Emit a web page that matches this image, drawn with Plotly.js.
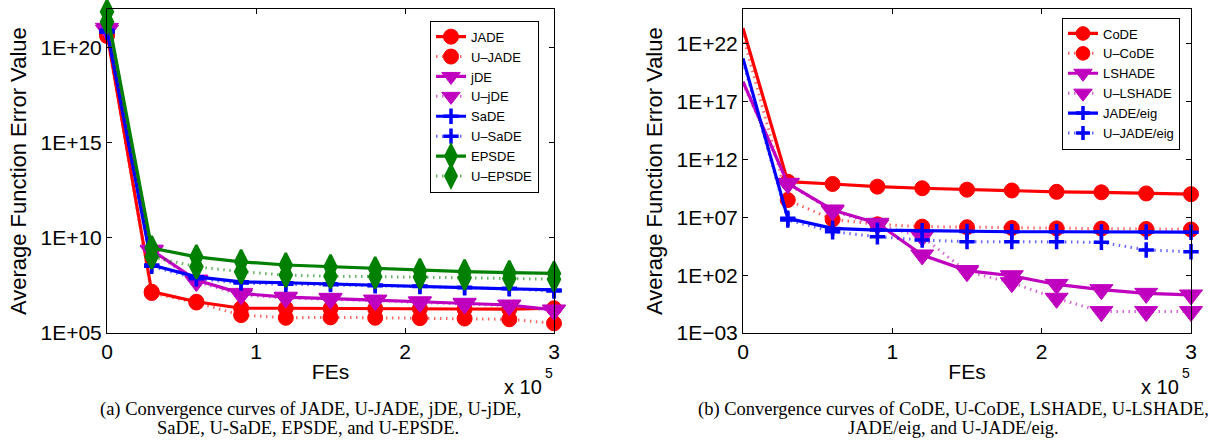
<!DOCTYPE html>
<html>
<head>
<meta charset="utf-8">
<script src="https://cdn.plot.ly/plotly-3.0.1.min.js"></script>
<style>html,body{margin:0;padding:0;background:#fff;}#chart{width:1210px;height:441px;}</style>
</head>
<body>
<div id="chart"></div>
<script>
// Function evaluations (x axis)
const fes = [0, 30000, 60000, 90000, 120000, 150000, 180000, 210000, 240000, 270000, 300000];

// Panel (a): log10 of average function error value
const jadeLog    = [20.73, 7.17, 6.64, 6.30, 6.30, 6.28, 6.28, 6.28, 6.26, 6.25, 6.30];
const uJadeLog   = [20.60, 7.10, 6.60, 5.94, 5.80, 5.82, 5.80, 5.78, 5.76, 5.72, 5.51];
const jdeLog     = [21.00, 9.35, 7.78, 7.08, 6.88, 6.82, 6.73, 6.64, 6.56, 6.47, 6.21];
const uJdeLog    = [20.90, 9.30, 7.70, 7.00, 6.84, 6.78, 6.70, 6.60, 6.52, 6.44, 6.18];
const sadeLog    = [20.90, 8.57, 7.95, 7.69, 7.64, 7.58, 7.52, 7.47, 7.40, 7.35, 7.26];
const uSadeLog   = [20.80, 8.50, 7.85, 7.62, 7.56, 7.54, 7.48, 7.44, 7.37, 7.32, 7.20];
const epsdeLog   = [21.87, 9.46, 9.00, 8.74, 8.57, 8.48, 8.36, 8.27, 8.22, 8.17, 8.13];
const uEpsdeLog  = [21.34, 9.00, 8.48, 8.22, 8.04, 7.98, 7.96, 7.94, 7.90, 7.86, 7.82];

// Panel (b): log10 of average function error value
const codeLog    = [23.36, 10.09, 9.89, 9.66, 9.52, 9.40, 9.33, 9.21, 9.17, 9.07, 9.01];
const uCodeLog   = [22.70, 8.50, 6.83, 6.40, 6.20, 6.15, 6.08, 6.05, 6.03, 6.00, 5.95];
const lshadeLog  = [18.74, 9.95, 7.64, 6.49, 3.75, 2.40, 1.95, 1.20, 0.75, 0.43, 0.29];
const uLshadeLog = [18.60, 9.90, 7.55, 6.35, 5.33, 2.30, 1.35, 0.00, -1.15, -1.15, -1.15];
const jadeEigLog = [20.76, 6.92, 6.05, 5.90, 5.85, 5.78, 5.76, 5.76, 5.75, 5.74, 5.72];
const uJadeEigLog= [20.50, 6.77, 5.76, 5.33, 5.04, 4.90, 4.90, 4.90, 4.85, 4.18, 4.03];

// Tick labels
const xTickVals = [0, 100000, 200000, 300000];
const xTickText = ['0', '1', '2', '3'];
const yTickValsA = [1e5, 1e10, 1e15, 1e20];
const yTickTextA = ['1E+05', '1E+10', '1E+15', '1E+20'];
const yTickValsB = [1e-3, 1e2, 1e7, 1e12, 1e17, 1e22];
const yTickTextB = ['1E\u221203', '1E+02', '1E+07', '1E+12', '1E+17', '1E+22'];

const RED = '#ff0000', MAG = '#bf00bf', BLUE = '#0000ff', GREEN = '#008000';
const DOTC = {};
DOTC[RED] = 'rgba(255,0,0,0.6)';
DOTC[MAG] = 'rgba(191,0,191,0.6)';
DOTC[BLUE] = 'rgba(0,0,255,0.6)';
DOTC[GREEN] = 'rgba(0,128,0,0.6)';

function symStyle(sym) {
  if (sym === 'circle') return {symbol: 'circle', size: 15, lw: 1};
  if (sym === 'tri') return {symbol: 'triangle-down', size: 20, lw: 1};
  if (sym === 'plus') return {symbol: 'cross-thin', size: 11, lw: 3.5};
  return {symbol: 'diamond-tall', size: 17, lw: 2.5};
}

function tr(name, logs, color, sym, dotted, panel) {
  const s = symStyle(sym);
  const size = panel === 2 ? fes.map((_, i) => i === 0 ? 0 : s.size) : s.size;
  return {
    type: 'scatter', mode: 'lines+markers', name: name,
    x: fes, y: logs.map(v => Math.pow(10, v)),
    xaxis: panel === 1 ? 'x' : 'x2', yaxis: panel === 1 ? 'y' : 'y2',
    legend: panel === 1 ? 'legend' : 'legend2',
    cliponaxis: false,
    line: dotted ? {color: DOTC[color], width: 3, dash: '1.5px,4.5px'} : {color: color, width: 3.2},
    marker: {symbol: s.symbol, size: size, color: color, opacity: 1, line: {color: color, width: s.lw}},
    hoverinfo: 'skip'
  };
}

const data = [
  tr('JADE', jadeLog, RED, 'circle', false, 1),
  tr('U\u2013JADE', uJadeLog, RED, 'circle', true, 1),
  tr('jDE', jdeLog, MAG, 'tri', false, 1),
  tr('U\u2013jDE', uJdeLog, MAG, 'tri', true, 1),
  tr('SaDE', sadeLog, BLUE, 'plus', false, 1),
  tr('U\u2013SaDE', uSadeLog, BLUE, 'plus', true, 1),
  tr('EPSDE', epsdeLog, GREEN, 'diamond', false, 1),
  tr('U\u2013EPSDE', uEpsdeLog, GREEN, 'diamond', true, 1),
  tr('CoDE', codeLog, RED, 'circle', false, 2),
  tr('U\u2013CoDE', uCodeLog, RED, 'circle', true, 2),
  tr('LSHADE', lshadeLog, MAG, 'tri', false, 2),
  tr('U\u2013LSHADE', uLshadeLog, MAG, 'tri', true, 2),
  tr('JADE/eig', jadeEigLog, BLUE, 'plus', false, 2),
  tr('U\u2013JADE/eig', uJadeEigLog, BLUE, 'plus', true, 2)
];

const W = 1210, H = 441;
const px = v => v / W, py = v => 1 - v / H;
const SANS = 'Liberation Sans, Arial, sans-serif';

const axisStyle = {
  showline: true, linecolor: 'black', linewidth: 1, mirror: 'ticks',
  ticks: 'inside', ticklen: 5, tickwidth: 1, tickcolor: 'black',
  showgrid: false, zeroline: false, fixedrange: true,
  tickfont: {family: SANS, size: 21, color: '#000'}
};

const yDom = [py(333), py(9.3)];
const xTitle = {text: 'FEs', font: {family: SANS, size: 21, color: '#000'}, standoff: 2};
const yTitle = {text: 'Average Function Error Value', font: {family: SANS, size: 22, color: '#000'}, standoff: 7};

const legendStyle = {
  bgcolor: '#ffffff', bordercolor: '#000', borderwidth: 1,
  font: {family: SANS, size: 13, color: '#000'},
  xanchor: 'right', yanchor: 'top', itemsizing: 'trace', tracegroupgap: 0
};

const capFont = {family: 'Liberation Serif, Times New Roman, serif', size: 18.5, color: '#000'};

function ann(text, x, y, opts) {
  return Object.assign({text: text, x: px(x), y: py(y), xref: 'paper', yref: 'paper',
    showarrow: false, xanchor: 'center', yanchor: 'middle',
    font: {family: SANS, size: 20, color: '#000'}}, opts || {});
}

const layout = {
  width: W, height: H,
  margin: {l: 0, r: 0, t: 0, b: 0},
  paper_bgcolor: '#fff', plot_bgcolor: '#fff',
  font: {family: SANS, size: 21, color: '#000'},
  showlegend: true,
  xaxis: Object.assign({}, axisStyle, {domain: [px(107), px(554)], range: [0, 300000],
    tickmode: 'array', tickvals: xTickVals, ticktext: xTickText, anchor: 'y', title: xTitle}),
  yaxis: Object.assign({}, axisStyle, {domain: yDom, type: 'log', range: [5, 22],
    tickmode: 'array', tickvals: yTickValsA, ticktext: yTickTextA, anchor: 'x', title: yTitle}),
  xaxis2: Object.assign({}, axisStyle, {domain: [px(743), px(1191)], range: [0, 300000],
    tickmode: 'array', tickvals: xTickVals, ticktext: xTickText, anchor: 'y2', title: xTitle}),
  yaxis2: Object.assign({}, axisStyle, {domain: yDom, type: 'log', range: [-3, 25],
    tickmode: 'array', tickvals: yTickValsB, ticktext: yTickTextB, anchor: 'x2', title: yTitle}),
  legend: Object.assign({}, legendStyle, {x: px(539), y: py(20.7)}),
  legend2: Object.assign({}, legendStyle, {x: px(1180), y: py(17.5)}),
  annotations: [
    ann('x 10', 544, 387, {xanchor: 'right'}),
    ann('5', 549, 373, {font: {family: SANS, size: 14, color: '#000'}}),
    ann('x 10', 1181, 387, {xanchor: 'right'}),
    ann('5', 1186, 373, {font: {family: SANS, size: 14, color: '#000'}}),
    ann('(a) Convergence curves of JADE, U-JADE, jDE, U-jDE,', 310, 409, {font: capFont}),
    ann('SaDE, U-SaDE, EPSDE, and U-EPSDE.', 308, 428, {font: capFont}),
    ann('(b) Convergence curves of CoDE, U-CoDE, LSHADE, U-LSHADE,', 953, 409, {font: capFont}),
    ann('JADE/eig, and U-JADE/eig.', 953, 428, {font: capFont})
  ]
};

Plotly.newPlot('chart', data, layout, {displayModeBar: false, staticPlot: true});
</script>
</body>
</html>
